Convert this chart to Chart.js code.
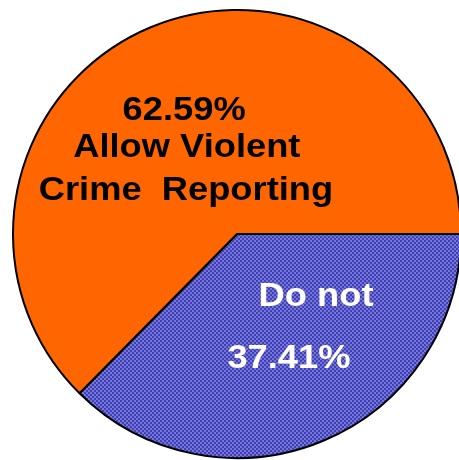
<!DOCTYPE html>
<html>
<head>
<meta charset="utf-8">
<script src="https://cdn.jsdelivr.net/npm/chart.js@4/dist/chart.umd.min.js"></script>
<style>
  html, body { margin: 0; padding: 0; background: #fff; }
  #wrap { width: 459px; height: 460px; }
</style>
</head>
<body>
<div id="wrap"><canvas id="pieChart" width="459" height="460"></canvas></div>
<script>
// data
var labels = ["Do not", "Allow Violent Crime Reporting"];
var shares = [37.41, 62.59];

// checkered blue fill for the "Do not" slice
function checkerFill() {
    var c = document.createElement("canvas");
    c.width = 4; c.height = 4;
    var g = c.getContext("2d");
    g.fillStyle = "#7676d8";
    g.fillRect(0, 0, 4, 4);
    g.fillStyle = "#4040b6";
    g.fillRect(0, 0, 2, 2);
    g.fillRect(2, 2, 2, 2);
    return g.createPattern(c, "repeat");
}

// text lines inside each slice; dx/dy are fractions of the radius from the centre
var sliceText = [
    { color: "#fff", lines: [
        { text: function() { return labels[0]; }, dx: 0.353, dy: 0.28 },
        { text: function() { return shares[0].toFixed(2) + "%"; }, dx: 0.232, dy: 0.558 }
    ]},
    { color: "#000", lines: [
        { text: function() { return shares[1].toFixed(2) + "%"; }, dx: -0.236, dy: -0.55 },
        { text: function() { return "Allow Violent"; }, dx: -0.224, dy: -0.384 },
        { text: function() { return "Crime  Reporting"; }, dx: -0.228, dy: -0.194 }
    ]}
];

var sliceLabels = {
    id: "sliceLabels",
    afterDatasetsDraw: function(chart) {
        var ctx = chart.ctx;
        var arc = chart.getDatasetMeta(0).data[0];
        var cx = arc.x, cy = arc.y, r = arc.outerRadius;
        var stretch = 1.1;
        ctx.save();
        ctx.font = "bold 33px 'Liberation Sans', Arial, sans-serif";
        ctx.textAlign = "center";
        ctx.textBaseline = "middle";
        sliceText.forEach(function(s) {
            ctx.fillStyle = s.color;
            s.lines.forEach(function(l) {
                ctx.save();
                ctx.translate(cx + l.dx * r, cy + l.dy * r);
                ctx.scale(stretch, 1);
                ctx.fillText(l.text(), 0, 0);
                ctx.restore();
            });
        });
        ctx.restore();
    }
};

var ctx = document.getElementById("pieChart");

var pieGraph = new Chart(ctx, {
    type: "pie",
    data: {
        labels: labels,
        datasets: [
            {
                data: shares,
                backgroundColor: [checkerFill(), "#ff6600"],
                borderColor: "#000",
                borderWidth: 2,
                clip: false
            }
        ]
    },
    options: {
        responsive: false,
        animation: false,
        rotation: 90,
        radius: 224,
        layout: { padding: { left: 15, right: 0, top: 8, bottom: 0 } },
        plugins: {
            legend: { display: false },
            tooltip: { enabled: false }
        }
    },
    plugins: [sliceLabels]
});
</script>
</body>
</html>
